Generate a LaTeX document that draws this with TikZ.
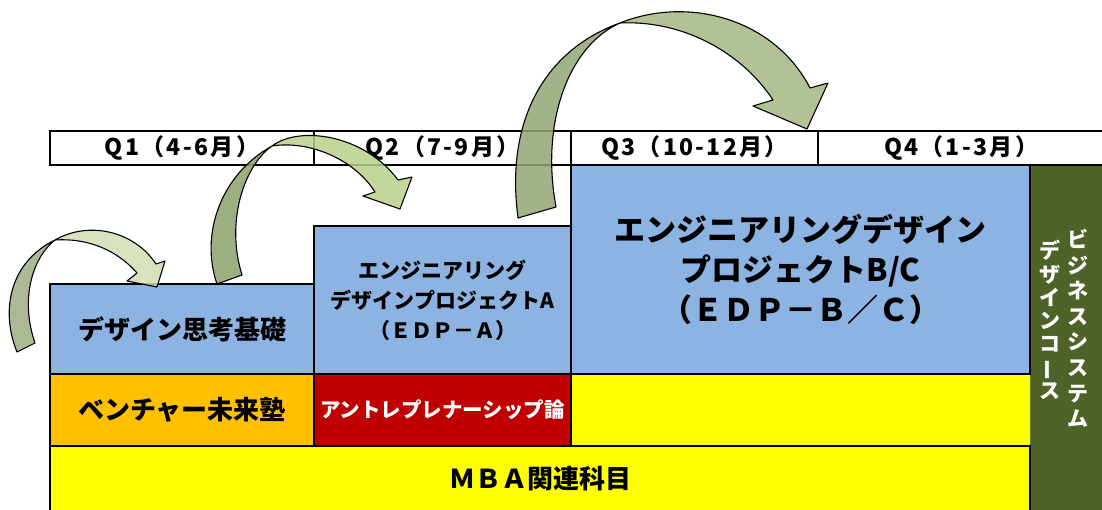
\documentclass[tikz,border=0pt]{standalone}
\usepackage{fontspec}
\setmainfont{Noto Sans CJK JP}
\usepackage{graphicx}
\definecolor{cblue}{HTML}{8DB3E2}
\definecolor{corange}{HTML}{FFC000}
\definecolor{cred}{HTML}{C00000}
\definecolor{cyellow}{HTML}{FFFF00}
\definecolor{cgreen}{HTML}{4F6228}
\definecolor{aonedark}{RGB}{157,173,131}
\definecolor{aonelight}{RGB}{209,223,178}
\definecolor{atwodark}{RGB}{141,161,106}
\definecolor{atwolight}{RGB}{186,208,137}
\definecolor{athreedark}{RGB}{148,166,117}
\definecolor{athreelight}{RGB}{166,184,131}
\begin{document}
\begin{tikzpicture}[x=1pt,y=-1pt,
  cell/.style={draw=black,line width=1.8pt,inner sep=0pt,align=center},
  hdr/.style={cell,fill=white,minimum height=34,font=\bfseries\fontsize{23}{26}\selectfont\addfontfeature{LetterSpace=10}},
  bluebox/.style={cell,fill=cblue},
  bigtext/.style={font=\bfseries\fontsize{26}{30}\selectfont},
  vtext/.style={text=white,inner sep=0pt,align=center},
  arrowshape/.style={draw=black,line width=1.1pt,fill opacity=0.85,line join=round}
]
\useasboundingbox (0,0) rectangle (1102,510);
\fill[white] (0,0) rectangle (1102,510);

% green side column
\node[fill=cgreen,inner sep=0pt,minimum width=74,minimum height=347] (side) at (1067,338.5) {};

% yellow area
\fill[cyellow] (50,446) -- (571,446) -- (571,374) -- (1030,374) -- (1030,512) -- (50,512) -- cycle;

% header
\node[hdr,minimum width=264] (q1) at (182,148) {Q1（4-6月）};
\node[hdr,minimum width=257] (q2) at (442.5,148) {Q2（7-9月）};
\node[hdr,minimum width=247] (q3) at (694.5,148) {Q3（10-12月）};
\node[hdr,minimum width=286] (q4) at (961,148) {Q4（1-3月）};

% boxes
\node[bluebox,bigtext,minimum width=264,minimum height=90] (dt) at (182,329) {デザイン思考基礎};
\node[bluebox,minimum width=257,minimum height=149,font=\bfseries\fontsize{21}{30}\selectfont] (edpa) at (442.5,300.5)
  {\raisebox{0pt}{エンジニアリング}\\デザインプロジェクトA\\（ＥＤＰ－Ａ）};
\node[bluebox,minimum width=459,minimum height=209,font=\bfseries\fontsize{31}{40}\selectfont] (edpbc) at (800.5,269.5)
  {エンジニアリングデザイン\\プロジェクトB/C\\（ＥＤＰ－Ｂ／Ｃ）};
\node[cell,fill=corange,bigtext,minimum width=264,minimum height=72] (vent) at (182,410) {ベンチャー未来塾};
\node[cell,fill=cred,text=white,minimum width=257,minimum height=72,font=\bfseries\fontsize{20.5}{24}\selectfont] (entre) at (442.5,410) {アントレプレナーシップ論};
\node[cell,bigtext,minimum width=980,minimum height=66] (mba) at (540,479) {ＭＢＡ関連科目};

% vertical text
\node[vtext,font=\bfseries\fontsize{21}{25.6}\selectfont] (vright) at (1078,328.5)
  {ビ\\ジ\\ネ\\ス\\シ\\ス\\テ\\ム};
\node[vtext,font=\bfseries\fontsize{21}{23.3}\selectfont] (vleft) at (1050,320)
  {デ\\ザ\\イ\\ン\\コ\\\rotatebox[origin=c]{90}{ー}\\ス};

% arrow 1
\filldraw[arrowshape,fill=aonedark] (17,352) .. controls (0,310) and (10,262) .. (55,240)
  .. controls (32,258) and (20,300) .. (35,343) -- cycle;
\filldraw[arrowshape,fill=aonelight] (55,240) .. controls (90,220) and (135,232) .. (156,264)
  -- (165,261) -- (157,287) -- (127,281) -- (137,273)
  .. controls (115,248) and (85,238) .. (55,240) -- cycle;

% arrow 2
\filldraw[arrowshape,fill=atwodark] (217,284) .. controls (200,235) and (220,175) .. (272,146)
  .. controls (245,165) and (225,220) .. (242,275) -- cycle;
\filldraw[arrowshape,fill=atwolight] (272,146) .. controls (300,125) and (365,135) .. (398,180)
  -- (412,177) -- (400,209) -- (363,196) -- (375,192)
  .. controls (355,160) and (310,140) .. (272,146) -- cycle;

% arrow 3
\filldraw[arrowshape,fill=athreedark] (518,218) .. controls (505,120) and (545,50) .. (620,23)
  .. controls (570,45) and (540,120) .. (556,207) -- cycle;
\filldraw[arrowshape,fill=athreelight] (620,23) .. controls (690,-5) and (775,20) .. (810,88)
  -- (828,83) -- (807,129) -- (753,106) -- (773,100)
  .. controls (740,50) and (680,20) .. (620,23) -- cycle;
\end{tikzpicture}
\end{document}
